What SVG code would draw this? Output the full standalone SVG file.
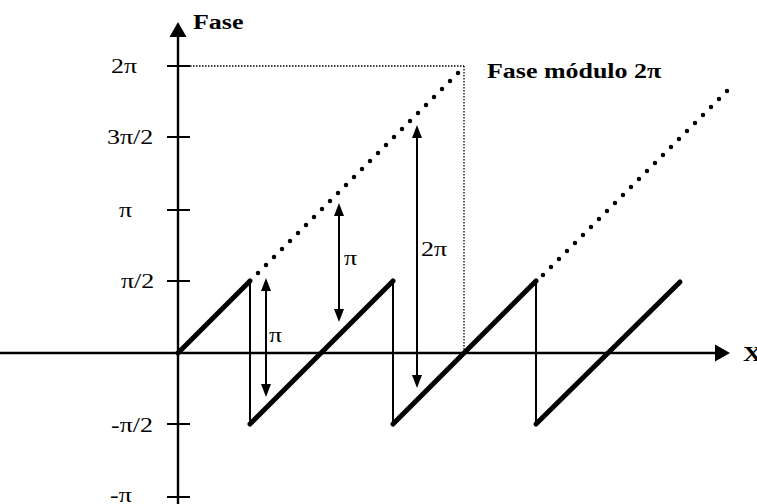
<svg xmlns="http://www.w3.org/2000/svg" width="757" height="504" viewBox="0 0 757 504">
<style>
.ax{stroke:#000;stroke-width:2.4;fill:none}
.tk{stroke:#000;stroke-width:2;fill:none}
.thick{stroke:#000;stroke-width:5;fill:none;stroke-linecap:round}
.thin{stroke:#000;stroke-width:2;fill:none}
.dots{stroke:#000;stroke-width:4.5;fill:none;stroke-linecap:round;stroke-dasharray:0 11.314}
.fine{stroke:#000;stroke-width:1.3;fill:none;stroke-dasharray:1.5 1.5}
.arr{stroke:#000;stroke-width:2;fill:none}
text{font-family:"Liberation Serif","Times New Roman",serif;font-size:22px;fill:#000}
.b{font-weight:bold}
</style>
<defs>
<marker id="ah" markerUnits="userSpaceOnUse" markerWidth="13" markerHeight="10" refX="8" refY="5" orient="auto-start-reverse" overflow="visible">
<path d="M0,0 L13,5 L0,10 Z" fill="#000"/>
</marker>
<marker id="axh" markerUnits="userSpaceOnUse" markerWidth="15" markerHeight="17" refX="5" refY="8.5" orient="auto" overflow="visible">
<path d="M0,0 L15,8.5 L0,17 Z" fill="#000"/>
</marker>
</defs>
<g id="axes">
<line class="ax" x1="178" y1="504" x2="178" y2="32" marker-end="url(#axh)"/>
<line class="ax" x1="0" y1="353" x2="720" y2="353" marker-end="url(#axh)"/>
</g>
<g id="ticks">
<line class="tk" x1="167" y1="66" x2="190" y2="66"/>
<line class="tk" x1="167" y1="137" x2="190" y2="137"/>
<line class="tk" x1="167" y1="210" x2="190" y2="210"/>
<line class="tk" x1="167" y1="281" x2="190" y2="281"/>
<line class="tk" x1="167" y1="424" x2="190" y2="424"/>
<line class="tk" x1="167" y1="497" x2="190" y2="497"/>
</g>
<g id="guides">
<line class="fine" x1="190" y1="66" x2="464" y2="66"/>
<line class="fine" x1="464" y1="66" x2="464" y2="353"/>
</g>
<g id="dotted-phase">
<line class="dots" x1="258" y1="273" x2="459.1" y2="71.9"/>
<line class="dots" x1="543" y1="275" x2="727.1" y2="90.9"/>
</g>
<g id="wrapped-phase">
<line class="thick" x1="178" y1="353" x2="250" y2="281"/>
<line class="thin" x1="250" y1="281" x2="250" y2="424"/>
<line class="thick" x1="250" y1="424" x2="393" y2="281"/>
<line class="thin" x1="393" y1="281" x2="393" y2="424"/>
<line class="thick" x1="393" y1="424" x2="536" y2="281"/>
<line class="thin" x1="536" y1="281" x2="536" y2="424"/>
<line class="thick" x1="536" y1="424" x2="680" y2="282"/>
</g>
<g id="connectors">
<line class="arr" x1="266" y1="283" x2="266" y2="392" marker-start="url(#ah)" marker-end="url(#ah)"/>
<line class="arr" x1="339" y1="208" x2="339" y2="317" marker-start="url(#ah)" marker-end="url(#ah)"/>
<line class="arr" x1="417" y1="130" x2="417" y2="383" marker-start="url(#ah)" marker-end="url(#ah)"/>
</g>
<g id="labels">
<text class="b" transform="translate(193,29) scale(1.18,1)">Fase</text>
<text class="b" transform="translate(487,78) scale(1.18,1)">Fase módulo 2π</text>
<text class="b" transform="translate(743,361) scale(1.18,1)">X</text>
<text transform="translate(111,73) scale(1.18,1)">2π</text>
<text transform="translate(107,144) scale(1.18,1)">3π/2</text>
<text transform="translate(119,217) scale(1.18,1)">π</text>
<text transform="translate(121,288) scale(1.18,1)">π/2</text>
<text transform="translate(111,432) scale(1.18,1)">-π/2</text>
<text transform="translate(110,502) scale(1.18,1)">-π</text>
<text transform="translate(269,342) scale(1.18,1)">π</text>
<text transform="translate(344,265) scale(1.18,1)">π</text>
<text transform="translate(421,256) scale(1.18,1)">2π</text>
</g>
</svg>
